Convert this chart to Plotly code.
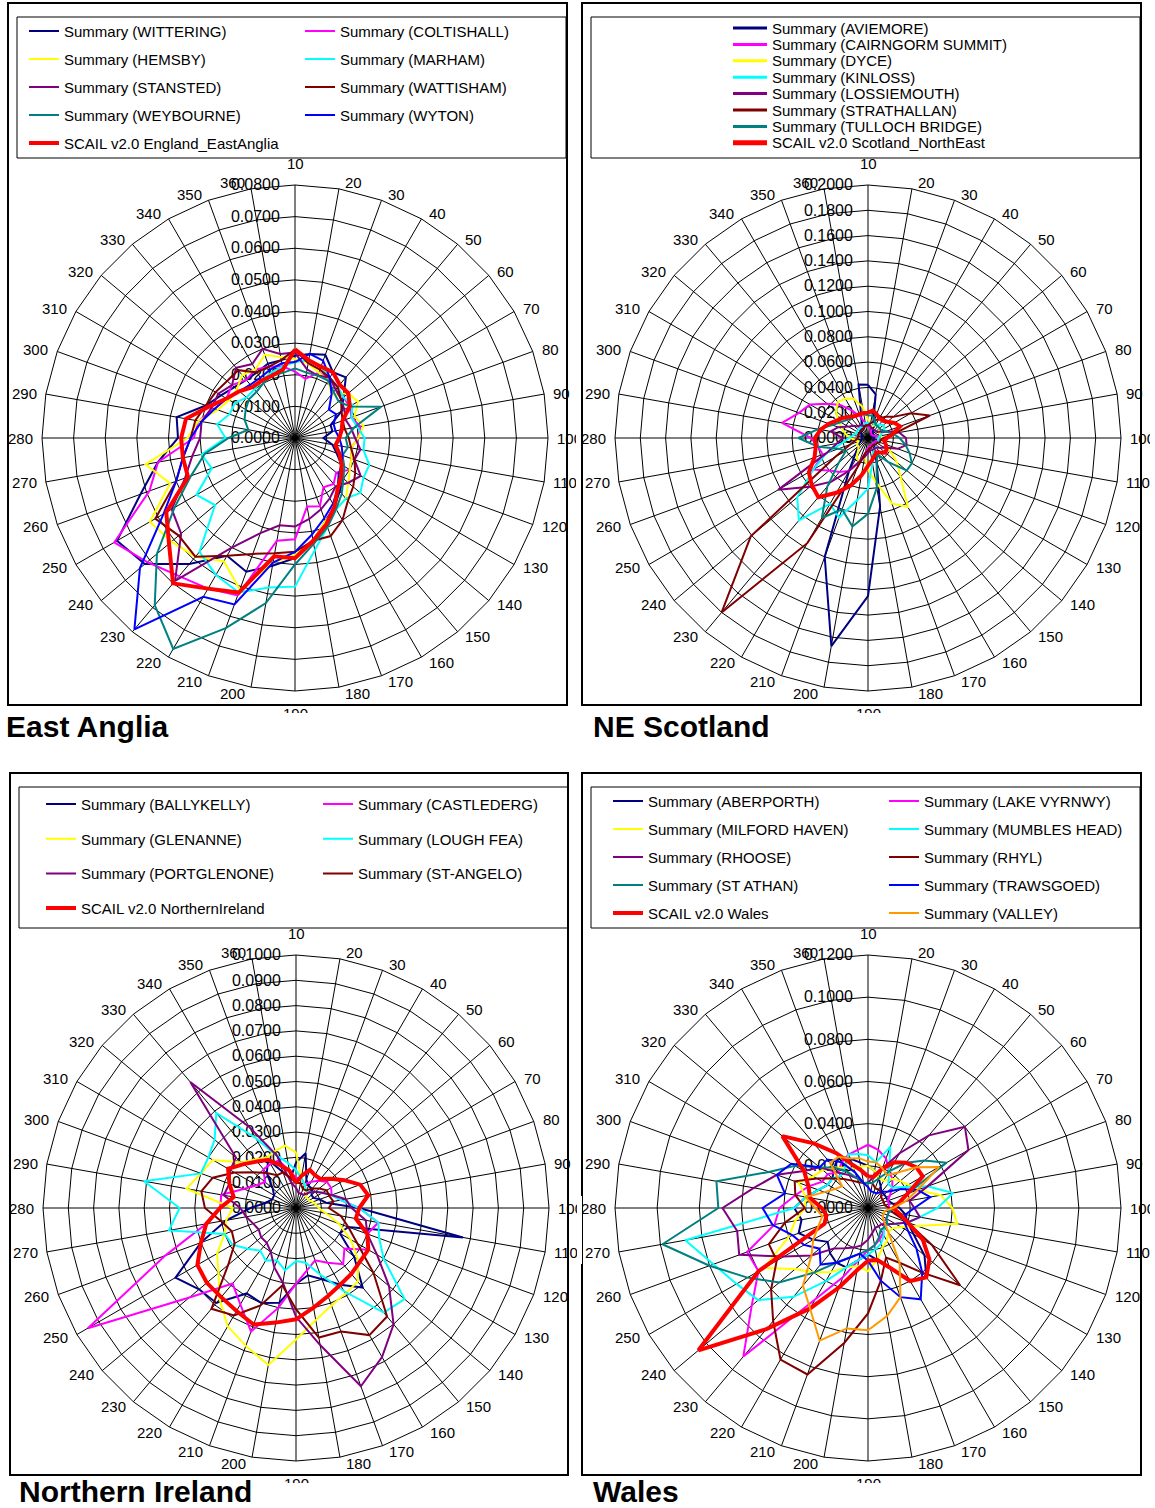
import math
import plotly.graph_objects as go

W, H = 1155, 1508
FONT = "Arial, 'Liberation Sans', sans-serif"

# wind direction sectors (degrees)
directions = ['10', '20', '30', '40', '50', '60', '70', '80', '90', '100', '110', '120',
              '130', '140', '150', '160', '170', '180', '190', '200', '210', '220', '230', '240',
              '250', '260', '270', '280', '290', '300', '310', '320', '330', '340', '350', '360']

# ---------------- East Anglia ----------------
wittering = [0.026, 0.027, 0.028, 0.024, 0.025, 0.020, 0.017, 0.012, 0.012, 0.009, 0.012, 0.014,
             0.017, 0.020, 0.022, 0.025, 0.028, 0.033, 0.038, 0.041, 0.045, 0.043, 0.052, 0.062,
             0.065, 0.052, 0.044, 0.037, 0.038, 0.030, 0.027, 0.025, 0.024, 0.024, 0.025, 0.025]
coltishall = [0.021, 0.019, 0.022, 0.022, 0.021, 0.020, 0.020, 0.019, 0.021, 0.020, 0.018, 0.019,
              0.020, 0.017, 0.019, 0.018, 0.023, 0.022, 0.032, 0.033, 0.053, 0.055, 0.057, 0.061,
              0.066, 0.049, 0.044, 0.032, 0.031, 0.027, 0.025, 0.026, 0.024, 0.025, 0.024, 0.023]
hemsby = [0.025, 0.024, 0.022, 0.021, 0.018, 0.022, 0.023, 0.020, 0.022, 0.020, 0.018, 0.019,
          0.020, 0.022, 0.025, 0.026, 0.028, 0.033, 0.037, 0.040, 0.051, 0.045, 0.049, 0.051,
          0.053, 0.042, 0.048, 0.034, 0.031, 0.026, 0.024, 0.024, 0.026, 0.025, 0.028, 0.026]
marham = [0.024, 0.025, 0.024, 0.022, 0.021, 0.020, 0.021, 0.019, 0.020, 0.022, 0.022, 0.025,
          0.025, 0.027, 0.025, 0.026, 0.030, 0.036, 0.047, 0.048, 0.052, 0.050, 0.047, 0.033,
          0.036, 0.028, 0.030, 0.022, 0.025, 0.022, 0.022, 0.020, 0.020, 0.021, 0.022, 0.023]
stansted = [0.027, 0.022, 0.021, 0.022, 0.020, 0.019, 0.018, 0.017, 0.018, 0.019, 0.021, 0.020,
            0.024, 0.022, 0.020, 0.022, 0.024, 0.026, 0.028, 0.028, 0.032, 0.040, 0.059, 0.047,
            0.045, 0.037, 0.033, 0.030, 0.030, 0.028, 0.028, 0.026, 0.029, 0.027, 0.030, 0.027]
wattisham = [0.028, 0.024, 0.023, 0.022, 0.021, 0.019, 0.017, 0.016, 0.016, 0.017, 0.018, 0.020,
             0.022, 0.024, 0.026, 0.030, 0.033, 0.033, 0.036, 0.037, 0.039, 0.043, 0.049, 0.048,
             0.051, 0.040, 0.036, 0.033, 0.032, 0.030, 0.029, 0.028, 0.028, 0.024, 0.024, 0.025]
weybourne = [0.022, 0.021, 0.021, 0.021, 0.019, 0.018, 0.020, 0.029, 0.019, 0.016, 0.017, 0.016,
             0.018, 0.020, 0.023, 0.026, 0.030, 0.034, 0.040, 0.053, 0.064, 0.077, 0.069, 0.057,
             0.044, 0.035, 0.029, 0.021, 0.015, 0.017, 0.018, 0.019, 0.019, 0.020, 0.021, 0.021]
wyton = [0.024, 0.027, 0.026, 0.022, 0.018, 0.014, 0.015, 0.013, 0.013, 0.014, 0.015, 0.016,
         0.017, 0.018, 0.021, 0.024, 0.027, 0.031, 0.036, 0.040, 0.056, 0.058, 0.079, 0.064,
         0.048, 0.040, 0.036, 0.033, 0.030, 0.027, 0.025, 0.023, 0.022, 0.022, 0.023, 0.024]
scail_east_anglia = [0.028, 0.025, 0.024, 0.024, 0.022, 0.022, 0.020, 0.016, 0.015, 0.014, 0.013, 0.015,
                     0.017, 0.019, 0.021, 0.025, 0.029, 0.033, 0.038, 0.038, 0.052, 0.055, 0.060, 0.052,
                     0.047, 0.036, 0.036, 0.036, 0.035, 0.029, 0.025, 0.023, 0.021, 0.021, 0.021, 0.022]

# ---------------- NE Scotland ----------------
aviemore = [0.042, 0.035, 0.012, 0.008, 0.006, 0.005, 0.004, 0.004, 0.004, 0.005, 0.005, 0.005,
            0.006, 0.007, 0.008, 0.010, 0.020, 0.055, 0.125, 0.167, 0.100, 0.030, 0.015, 0.010,
            0.008, 0.006, 0.005, 0.005, 0.005, 0.005, 0.006, 0.007, 0.008, 0.010, 0.015, 0.043]
cairngorm = [0.010, 0.008, 0.006, 0.005, 0.004, 0.004, 0.004, 0.005, 0.008, 0.008, 0.008, 0.007,
             0.006, 0.006, 0.006, 0.006, 0.006, 0.007, 0.008, 0.012, 0.020, 0.030, 0.035, 0.040,
             0.050, 0.038, 0.040, 0.045, 0.069, 0.058, 0.053, 0.042, 0.034, 0.025, 0.018, 0.012]
dyce = [0.015, 0.010, 0.010, 0.012, 0.012, 0.012, 0.010, 0.010, 0.010, 0.012, 0.014, 0.015,
        0.020, 0.030, 0.040, 0.063, 0.055, 0.035, 0.025, 0.015, 0.020, 0.018, 0.012, 0.010,
        0.010, 0.008, 0.010, 0.014, 0.018, 0.022, 0.027, 0.033, 0.037, 0.036, 0.033, 0.025]
kinloss = [0.012, 0.012, 0.012, 0.012, 0.014, 0.016, 0.015, 0.012, 0.010, 0.008, 0.008, 0.010,
           0.008, 0.008, 0.010, 0.010, 0.012, 0.020, 0.040, 0.050, 0.067, 0.060, 0.085, 0.073,
           0.050, 0.035, 0.020, 0.015, 0.012, 0.010, 0.010, 0.010, 0.010, 0.010, 0.010, 0.012]
lossiemouth = [0.010, 0.010, 0.008, 0.008, 0.008, 0.008, 0.010, 0.015, 0.025, 0.030, 0.031, 0.025,
               0.015, 0.012, 0.010, 0.010, 0.010, 0.010, 0.012, 0.015, 0.020, 0.030, 0.045, 0.060,
               0.082, 0.035, 0.025, 0.020, 0.030, 0.025, 0.018, 0.015, 0.012, 0.012, 0.010, 0.010]
strathallan = [0.010, 0.012, 0.014, 0.018, 0.022, 0.026, 0.039, 0.052, 0.022, 0.012, 0.010, 0.010,
               0.008, 0.008, 0.007, 0.007, 0.008, 0.008, 0.010, 0.012, 0.025, 0.096, 0.180, 0.121,
               0.030, 0.015, 0.010, 0.008, 0.008, 0.008, 0.008, 0.008, 0.008, 0.008, 0.009, 0.010]
tulloch_bridge = [0.018, 0.018, 0.015, 0.012, 0.012, 0.012, 0.012, 0.015, 0.020, 0.025, 0.030, 0.035,
                  0.040, 0.040, 0.025, 0.015, 0.020, 0.040, 0.060, 0.071, 0.060, 0.073, 0.050, 0.030,
                  0.020, 0.025, 0.040, 0.055, 0.040, 0.030, 0.025, 0.022, 0.020, 0.020, 0.020, 0.019]
scail_ne_scotland = [0.020, 0.022, 0.020, 0.018, 0.018, 0.020, 0.024, 0.027, 0.020, 0.015, 0.013, 0.015,
                     0.017, 0.018, 0.015, 0.013, 0.015, 0.018, 0.022, 0.030, 0.040, 0.050, 0.061, 0.058,
                     0.054, 0.045, 0.042, 0.042, 0.038, 0.033, 0.028, 0.025, 0.022, 0.020, 0.020, 0.020]

# ---------------- Northern Ireland ----------------
ballykelly = [0.018, 0.022, 0.012, 0.010, 0.010, 0.008, 0.008, 0.010, 0.012, 0.025, 0.067, 0.022,
              0.020, 0.030, 0.041, 0.035, 0.030, 0.027, 0.030, 0.038, 0.040, 0.039, 0.049, 0.050,
              0.055, 0.040, 0.028, 0.018, 0.012, 0.010, 0.010, 0.012, 0.018, 0.022, 0.015, 0.012]
castlederg = [0.012, 0.012, 0.010, 0.012, 0.014, 0.016, 0.016, 0.015, 0.018, 0.025, 0.033, 0.030,
              0.033, 0.025, 0.029, 0.025, 0.022, 0.025, 0.030, 0.040, 0.052, 0.044, 0.039, 0.055,
              0.095, 0.055, 0.036, 0.030, 0.030, 0.022, 0.018, 0.016, 0.020, 0.020, 0.020, 0.015]
glenanne = [0.022, 0.012, 0.010, 0.008, 0.006, 0.006, 0.006, 0.007, 0.008, 0.009, 0.012, 0.018,
            0.025, 0.032, 0.038, 0.039, 0.041, 0.045, 0.052, 0.063, 0.058, 0.054, 0.047, 0.040,
            0.036, 0.030, 0.028, 0.025, 0.044, 0.040, 0.038, 0.028, 0.025, 0.023, 0.024, 0.025]
lough_fea = [0.015, 0.012, 0.010, 0.008, 0.008, 0.010, 0.012, 0.015, 0.018, 0.025, 0.033, 0.035,
             0.040, 0.056, 0.054, 0.038, 0.028, 0.022, 0.021, 0.025, 0.022, 0.024, 0.022, 0.025,
             0.029, 0.030, 0.051, 0.046, 0.061, 0.040, 0.040, 0.042, 0.049, 0.032, 0.022, 0.018]
portglenone = [0.008, 0.006, 0.006, 0.006, 0.008, 0.010, 0.012, 0.015, 0.020, 0.022, 0.028, 0.030,
               0.037, 0.048, 0.060, 0.068, 0.075, 0.055, 0.043, 0.030, 0.025, 0.020, 0.018, 0.018,
               0.017, 0.018, 0.020, 0.022, 0.029, 0.028, 0.030, 0.031, 0.065, 0.037, 0.022, 0.010]
st_angelo = [0.010, 0.010, 0.008, 0.008, 0.010, 0.012, 0.014, 0.014, 0.015, 0.013, 0.018, 0.022,
             0.028, 0.040, 0.056, 0.058, 0.052, 0.052, 0.040, 0.031, 0.041, 0.049, 0.052, 0.035,
             0.028, 0.027, 0.030, 0.036, 0.038, 0.035, 0.028, 0.022, 0.018, 0.015, 0.015, 0.012]
scail_northern_ireland = [0.010, 0.013, 0.016, 0.015, 0.015, 0.018, 0.022, 0.027, 0.029, 0.025, 0.024, 0.030,
                          0.033, 0.033, 0.034, 0.035, 0.037, 0.040, 0.044, 0.046, 0.049, 0.047, 0.046, 0.046,
                          0.045, 0.040, 0.036, 0.030, 0.025, 0.028, 0.031, 0.027, 0.024, 0.022, 0.018, 0.015]

# ---------------- Wales ----------------
aberporth = [0.020, 0.018, 0.015, 0.012, 0.010, 0.010, 0.010, 0.010, 0.012, 0.015, 0.018, 0.020,
             0.025, 0.035, 0.043, 0.040, 0.030, 0.025, 0.022, 0.025, 0.030, 0.030, 0.028, 0.025,
             0.030, 0.035, 0.032, 0.035, 0.030, 0.025, 0.022, 0.022, 0.025, 0.028, 0.025, 0.022]
lake_vyrnwy = [0.030, 0.028, 0.025, 0.020, 0.018, 0.015, 0.012, 0.010, 0.010, 0.010, 0.010, 0.010,
               0.010, 0.010, 0.012, 0.014, 0.016, 0.018, 0.020, 0.025, 0.035, 0.050, 0.092, 0.072,
               0.060, 0.061, 0.045, 0.042, 0.035, 0.030, 0.025, 0.025, 0.022, 0.025, 0.027, 0.028]
milford_haven = [0.020, 0.018, 0.015, 0.015, 0.018, 0.020, 0.022, 0.025, 0.035, 0.040, 0.043, 0.025,
                 0.018, 0.015, 0.015, 0.018, 0.020, 0.025, 0.030, 0.028, 0.030, 0.035, 0.040, 0.045,
                 0.057, 0.040, 0.035, 0.030, 0.030, 0.035, 0.030, 0.028, 0.025, 0.022, 0.020, 0.020]
mumbles_head = [0.025, 0.022, 0.031, 0.020, 0.015, 0.015, 0.020, 0.030, 0.041, 0.033, 0.025, 0.020,
                0.015, 0.012, 0.012, 0.015, 0.018, 0.020, 0.022, 0.025, 0.030, 0.040, 0.055, 0.068,
                0.072, 0.078, 0.088, 0.035, 0.030, 0.025, 0.022, 0.022, 0.020, 0.022, 0.027, 0.026]
rhoose = [0.012, 0.015, 0.020, 0.030, 0.045, 0.060, 0.055, 0.030, 0.020, 0.022, 0.025, 0.020,
          0.015, 0.012, 0.010, 0.010, 0.010, 0.012, 0.015, 0.018, 0.020, 0.022, 0.025, 0.035,
          0.046, 0.065, 0.063, 0.069, 0.055, 0.046, 0.035, 0.030, 0.022, 0.018, 0.015, 0.012]
rhyl = [0.012, 0.012, 0.010, 0.010, 0.010, 0.008, 0.008, 0.008, 0.008, 0.010, 0.012, 0.020,
        0.035, 0.057, 0.040, 0.030, 0.025, 0.035, 0.050, 0.065, 0.084, 0.083, 0.070, 0.060,
        0.050, 0.050, 0.040, 0.030, 0.035, 0.037, 0.028, 0.022, 0.018, 0.015, 0.013, 0.012]
st_athan = [0.012, 0.012, 0.015, 0.020, 0.028, 0.035, 0.043, 0.020, 0.015, 0.012, 0.010, 0.010,
            0.010, 0.012, 0.012, 0.012, 0.015, 0.018, 0.020, 0.022, 0.025, 0.030, 0.040, 0.055,
            0.066, 0.080, 0.099, 0.071, 0.073, 0.050, 0.040, 0.030, 0.025, 0.020, 0.015, 0.012]
trawsgoed = [0.010, 0.008, 0.008, 0.008, 0.010, 0.012, 0.018, 0.025, 0.030, 0.022, 0.018, 0.018,
             0.022, 0.030, 0.040, 0.050, 0.045, 0.035, 0.025, 0.022, 0.025, 0.030, 0.035, 0.030,
             0.035, 0.038, 0.046, 0.050, 0.040, 0.046, 0.042, 0.030, 0.030, 0.025, 0.018, 0.012]
scail_wales = [0.015, 0.015, 0.020, 0.025, 0.028, 0.030, 0.030, 0.020, 0.015, 0.012, 0.015, 0.020,
               0.030, 0.038, 0.043, 0.040, 0.030, 0.025, 0.025, 0.030, 0.040, 0.055, 0.075, 0.105,
               0.060, 0.022, 0.020, 0.022, 0.028, 0.030, 0.035, 0.053, 0.040, 0.030, 0.022, 0.018]
valley = [0.022, 0.022, 0.020, 0.018, 0.022, 0.030, 0.039, 0.025, 0.018, 0.012, 0.008, 0.008,
          0.008, 0.010, 0.015, 0.030, 0.045, 0.052, 0.058, 0.058, 0.067, 0.055, 0.048, 0.035,
          0.030, 0.025, 0.022, 0.025, 0.030, 0.022, 0.018, 0.016, 0.028, 0.028, 0.025, 0.024]

# Excel-style series colours
NAVY, MAGENTA, YELLOW, CYAN = '#000080', '#FF00FF', '#FFFF00', '#00FFFF'
PURPLE, MAROON, TEAL, BLUE = '#800080', '#800000', '#008080', '#0000FF'
RED, ORANGE = '#FF0000', '#FF9900'


def px_x(x):
    return x / W


def px_y(y):
    return 1 - y / H


# panel layout (pixel geometry of each radar chart)
panels = [
    dict(polar='polar', title='East Anglia', cx=295, cy=438, rmax=0.08, dtick=0.01,
         box=(8, 3, 567, 705), legbox=(17, 17, 566, 158), title_xy=(5, 727),
         series=[
             ('Summary (WITTERING)', wittering, NAVY, 2, 'legend'),
             ('Summary (COLTISHALL)', coltishall, MAGENTA, 2, 'legend2'),
             ('Summary (HEMSBY)', hemsby, YELLOW, 2, 'legend'),
             ('Summary (MARHAM)', marham, CYAN, 2, 'legend2'),
             ('Summary (STANSTED)', stansted, PURPLE, 2, 'legend'),
             ('Summary (WATTISHAM)', wattisham, MAROON, 2, 'legend2'),
             ('Summary (WEYBOURNE)', weybourne, TEAL, 2, 'legend'),
             ('Summary (WYTON)', wyton, BLUE, 2, 'legend2'),
             ('SCAIL v2.0 England_EastAnglia', scail_east_anglia, RED, 4, 'legend'),
         ]),
    dict(polar='polar2', title='NE Scotland', cx=868, cy=438, rmax=0.2, dtick=0.02,
         box=(582, 3, 1141, 705), legbox=(591, 17, 1140, 158), title_xy=(592, 727),
         series=[
             ('Summary (AVIEMORE)', aviemore, NAVY, 2, None),
             ('Summary (CAIRNGORM SUMMIT)', cairngorm, MAGENTA, 2, None),
             ('Summary (DYCE)', dyce, YELLOW, 2, None),
             ('Summary (KINLOSS)', kinloss, CYAN, 2, None),
             ('Summary (LOSSIEMOUTH)', lossiemouth, PURPLE, 2, None),
             ('Summary (STRATHALLAN)', strathallan, MAROON, 2, None),
             ('Summary (TULLOCH BRIDGE)', tulloch_bridge, TEAL, 2, None),
             ('SCAIL v2.0 Scotland_NorthEast', scail_ne_scotland, RED, 4, None),
         ]),
    dict(polar='polar3', title='Northern Ireland', cx=296, cy=1208, rmax=0.1, dtick=0.01,
         box=(10, 773, 568, 1475), legbox=(19, 787, 568, 928), title_xy=(18, 1491),
         series=[
             ('Summary (BALLYKELLY)', ballykelly, NAVY, 2, 'legend3'),
             ('Summary (CASTLEDERG)', castlederg, MAGENTA, 2, 'legend4'),
             ('Summary (GLENANNE)', glenanne, YELLOW, 2, 'legend3'),
             ('Summary (LOUGH FEA)', lough_fea, CYAN, 2, 'legend4'),
             ('Summary (PORTGLENONE)', portglenone, PURPLE, 2, 'legend3'),
             ('Summary (ST-ANGELO)', st_angelo, MAROON, 2, 'legend4'),
             ('SCAIL v2.0 NorthernIreland', scail_northern_ireland, RED, 4, 'legend3'),
         ]),
    dict(polar='polar4', title='Wales', cx=868, cy=1208, rmax=0.12, dtick=0.02,
         box=(582, 773, 1141, 1475), legbox=(591, 787, 1140, 928), title_xy=(592, 1491),
         series=[
             ('Summary (ABERPORTH)', aberporth, NAVY, 2, 'legend5'),
             ('Summary (LAKE VYRNWY)', lake_vyrnwy, MAGENTA, 2, 'legend6'),
             ('Summary (MILFORD HAVEN)', milford_haven, YELLOW, 2, 'legend5'),
             ('Summary (MUMBLES HEAD)', mumbles_head, CYAN, 2, 'legend6'),
             ('Summary (RHOOSE)', rhoose, PURPLE, 2, 'legend5'),
             ('Summary (RHYL)', rhyl, MAROON, 2, 'legend6'),
             ('Summary (ST ATHAN)', st_athan, TEAL, 2, 'legend5'),
             ('Summary (TRAWSGOED)', trawsgoed, BLUE, 2, 'legend6'),
             ('SCAIL v2.0 Wales', scail_wales, RED, 4, 'legend5'),
             ('Summary (VALLEY)', valley, ORANGE, 2, 'legend6'),
         ]),
]

R = 253  # radar radius in px

fig = go.Figure()
layout = dict(
    width=W, height=H, margin=dict(l=0, r=0, t=0, b=0, pad=0, autoexpand=False),
    paper_bgcolor='white', plot_bgcolor='white',
    font=dict(family=FONT, size=15, color='black'),
    shapes=[], annotations=[], hovermode=False,
)


def rect(x0, y0, x1, y1, **kw):
    return dict(type='rect', xref='paper', yref='paper',
                x0=px_x(x0), x1=px_x(x1), y0=px_y(y1), y1=px_y(y0), **kw)


def label(text, x, y, xanchor, size=15, **kw):
    return dict(text=text, xref='paper', yref='paper', x=px_x(x), y=px_y(y),
                xanchor=xanchor, yanchor='middle', showarrow=False, borderpad=0,
                font=dict(family=FONT, size=size, color='black'), **kw)


def mask(x0, y0, x1, y1):
    # blank box laid over label parts that fall outside a chart frame
    return dict(text=' ', xref='paper', yref='paper', x=px_x(x0), y=px_y(y0),
                xanchor='left', yanchor='top', width=x1 - x0, height=y1 - y0,
                bgcolor='white', borderpad=0, borderwidth=0, showarrow=False)


masks = []
for p in panels:
    for name, vals, color, width, leg in p['series']:
        kw = dict(legend=leg, legendgroup=name, showlegend=True) if leg else dict(showlegend=False)
        fig.add_trace(go.Scatterpolar(
            r=vals + vals[:1], theta=directions + directions[:1],
            mode='lines', name=name, subplot=p['polar'],
            line=dict(color=color, width=width), **kw))

    cx, cy = p['cx'], p['cy']
    layout[p['polar']] = dict(
        domain=dict(x=[px_x(cx - R), px_x(cx + R)], y=[px_y(cy + R), px_y(cy - R)]),
        bgcolor='white',
        gridshape='linear',
        angularaxis=dict(
            type='category', categoryarray=directions, rotation=90, direction='clockwise',
            showline=True, linecolor='black', linewidth=1,
            showgrid=True, gridcolor='black', gridwidth=1,
            ticks='', showticklabels=False, layer='below traces'),
        radialaxis=dict(
            range=[0, p['rmax']], dtick=p['dtick'], tick0=0, tickformat='.4f',
            angle=90, side='counterclockwise', tickangle=90, showline=False,
            showgrid=True, gridcolor='black', gridwidth=1,
            ticks='outside', ticklen=9, tickcolor='rgba(0,0,0,0)',
            tickfont=dict(family=FONT, size=16, color='black'),
            layer='below traces'),
    )

    # direction labels sit beside each spoke tip, spreadsheet style
    for i, d in enumerate(directions):
        a = math.radians(i * 10)
        vx, vy = cx + R * math.sin(a), cy - R * math.cos(a)
        s, c = math.sin(a), math.cos(a)
        if abs(s) < 0.05:
            layout['annotations'].append(label(d, vx, vy - 22 * c, 'center'))
        else:
            gap = 4 + 4 * abs(s)
            lx = vx + gap if s > 0 else vx - gap
            layout['annotations'].append(label(d, lx, vy - 6 * c, 'left' if s > 0 else 'right'))

    # chart-area frame and legend frame
    layout['shapes'].append(rect(*p['box'], line=dict(color='black', width=2),
                                 fillcolor='rgba(0,0,0,0)'))
    layout['shapes'].append(rect(*p['legbox'], line=dict(color='black', width=1),
                                 fillcolor='rgba(0,0,0,0)'))
    bx0, by0, bx1, by1 = p['box']
    masks.append(mask(bx1 + 9, cy - 12, bx1 + 14, cy + 56))
    masks.append(mask(cx - 22, by1 + 8, cx + 22, by1 + 22))

    tx, ty = p['title_xy']
    layout['annotations'].append(label('<b>%s</b>' % p['title'], tx, ty, 'left', size=30))

# two-column legends: (left x of the key sample, top y, gap between rows)
legend_specs = {
    'legend': (24, 14.75, 5.5), 'legend2': (300, 14.75, 5.5),
    'legend3': (41, 787.75, 12.2), 'legend4': (318, 787.75, 12.2),
    'legend5': (608, 784.75, 5.5), 'legend6': (884, 784.75, 5.5),
}
for key, (lx, ty, gap) in legend_specs.items():
    layout[key] = dict(
        x=px_x(lx), y=px_y(ty), xanchor='left', yanchor='top', orientation='v',
        bgcolor='rgba(0,0,0,0)', borderwidth=0, tracegroupgap=gap, itemwidth=30,
        font=dict(family=FONT, size=15, color='black'), itemclick=False, itemdoubleclick=False)

# compact single-column key for NE Scotland
ne = panels[1]
key_line_x0, key_line_x1, key_text_x = 733, 767, 771
key_top, key_step = 28, 16.4
for i, (name, vals, color, width, leg) in enumerate(ne['series']):
    yy = key_top + i * key_step
    layout['shapes'].append(dict(type='line', xref='paper', yref='paper',
                                 x0=px_x(key_line_x0), x1=px_x(key_line_x1),
                                 y0=px_y(yy), y1=px_y(yy), line=dict(color=color, width=width + 1)))
    layout['annotations'].append(label(name, key_text_x, yy, 'left'))

layout['annotations'].extend(masks)

fig.update_layout(**layout)
fig.write_html('out.html', config=dict(displayModeBar=False))
